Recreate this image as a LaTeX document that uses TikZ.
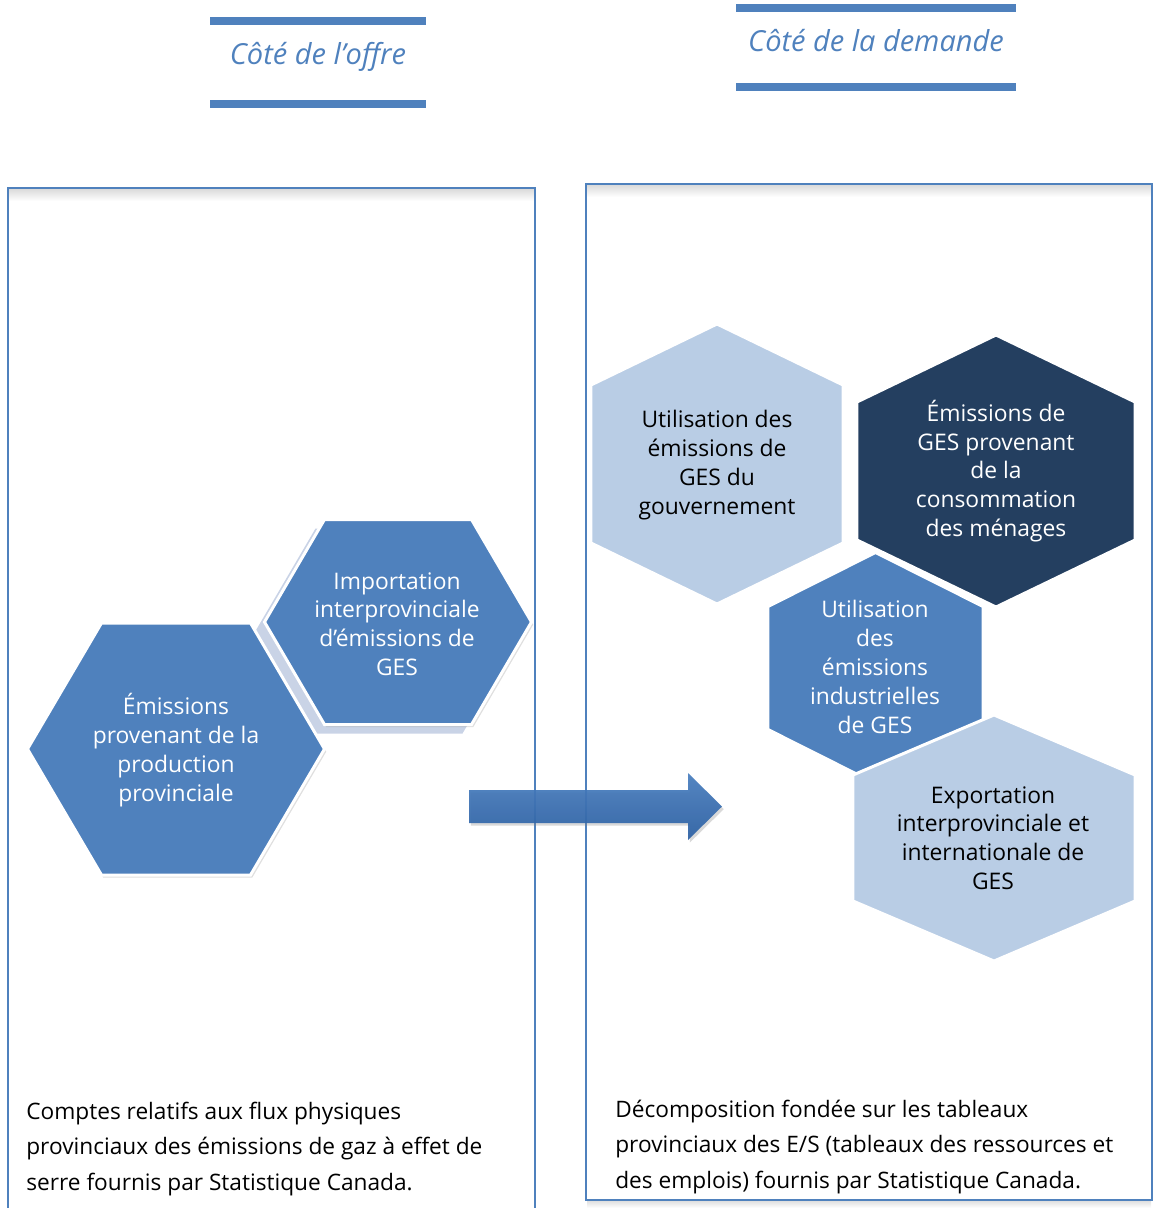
\documentclass[tikz,border=0pt]{standalone}
\usepackage{fontspec}
\setmainfont{Open Sans}
\usetikzlibrary{shadows}

\definecolor{accent}{HTML}{4F81BD}
\definecolor{palehex}{HTML}{B9CDE5}
\definecolor{navyhex}{HTML}{243F60}
\definecolor{bevel}{HTML}{C9D3E6}
\definecolor{arrowtop}{HTML}{4A7FC0}
\definecolor{arrowbot}{HTML}{2C60A3}

\begin{document}
\begin{tikzpicture}[x=0.02cm, y=-0.02cm,
  hexfill/.style={draw=white, line width=1.7pt, line join=miter},
  hextxt/.style={align=center, font=\fontsize{13}{16.4}\selectfont},
  srctxt/.style={anchor=west, align=left, inner sep=0pt, font=\fontsize{12.9}{20.2}\selectfont},
  titletxt/.style={text=accent, font=\fontsize{16.5}{19}\selectfont\itshape},
  titlebar/.style={accent, line width=4pt},
  boxline/.style={accent, line width=1.2pt}]
\newcommand{\hexside}[6]{% points left/right: cx, cy, w, h, slant, style
  \path[#6] ({#1-#3/2},#2) -- ({#1-#3/2+#5},{#2-#4/2}) -- ({#1+#3/2-#5},{#2-#4/2})
    -- ({#1+#3/2},#2) -- ({#1+#3/2-#5},{#2+#4/2}) -- ({#1-#3/2+#5},{#2+#4/2}) -- cycle;}
\newcommand{\hexup}[6]{% points up/down: cx, cy, w, h, slant, style
  \path[#6] (#1,{#2-#4/2}) -- ({#1+#3/2},{#2-#4/2+#5}) -- ({#1+#3/2},{#2+#4/2-#5})
    -- (#1,{#2+#4/2}) -- ({#1-#3/2},{#2+#4/2-#5}) -- ({#1-#3/2},{#2-#4/2+#5}) -- cycle;}

\useasboundingbox (0,0) rectangle (1153,1208);

% titles
\draw[titlebar] (210,21) -- (426,21);
\draw[titlebar] (210,104) -- (426,104);
\node[titletxt] (offre) at (318,57) {Côté de l’offre};
\draw[titlebar] (736,8) -- (1016,8);
\draw[titlebar] (736,87) -- (1016,87);
\node[titletxt] (demande) at (876,41) {Côté de la demande};

% boxes
\shade[top color=black!14, bottom color=white] (9,189) rectangle (534,201);
\shade[top color=black!14, bottom color=white] (587,185) rectangle (1151,197);
\shade[top color=black!12, bottom color=white] (587,1201) rectangle (1151,1208);
\draw[boxline] (8,1208) -- (8,188) -- (535,188) -- (535,1208);
\draw[boxline] (586,184) rectangle (1152,1200);

% supply side
\hexside{389}{631}{267}{205}{60}{fill=bevel}
\hexside{176}{749}{297}{252}{74}{hexfill, fill=accent, drop shadow={opacity=0.25, shadow xshift=1pt, shadow yshift=-1.5pt}}
\hexside{398}{622}{267}{205}{60}{hexfill, fill=accent, drop shadow={opacity=0.25, shadow xshift=1pt, shadow yshift=-1.5pt}}
\node[hextxt, text=white] (prod) at (176,750) {Émissions\\provenant de la\\production\\provinciale};
\node[hextxt, text=white] (import) at (397,624) {Importation\\interprovinciale\\d’émissions de\\GES};

% arrow
\path[top color=arrowtop, bottom color=arrowbot, fill opacity=0.93,
  drop shadow={opacity=0.3, shadow xshift=1pt, shadow yshift=-1.5pt}]
  (469,790) -- (688,790) -- (688,773) -- (722,806.5) -- (688,840) -- (688,823) -- (469,823) -- cycle;

% demand side
\hexup{717}{464}{252}{280}{61}{hexfill, fill=palehex}
\hexup{996}{471}{278}{272}{67}{hexfill, fill=navyhex}
\hexup{875.5}{668}{215}{231}{54}{hexfill, fill=accent}
\hexup{994}{838}{282}{246}{60}{hexfill, fill=palehex}
\node[hextxt] (gov) at (717,465) {Utilisation des\\émissions de\\GES du\\gouvernement};
\node[hextxt, text=white] (menages) at (996,471) {Émissions de\\GES provenant\\de la\\consommation\\des ménages};
\node[hextxt, text=white] (indus) at (875,667) {Utilisation\\des\\émissions\\industrielles\\de GES};
\node[hextxt] (export) at (993,838) {Exportation\\interprovinciale et\\internationale de\\GES};

% sources
\node[srctxt] (srcL) at (26,1149) {Comptes relatifs aux flux physiques\\provinciaux des émissions de gaz à effet de\\serre fournis par Statistique Canada.};
\node[srctxt] (srcR) at (615,1147) {Décomposition fondée sur les tableaux\\provinciaux des E/S (tableaux des ressources et\\des emplois) fournis par Statistique Canada.};
\end{tikzpicture}
\end{document}
